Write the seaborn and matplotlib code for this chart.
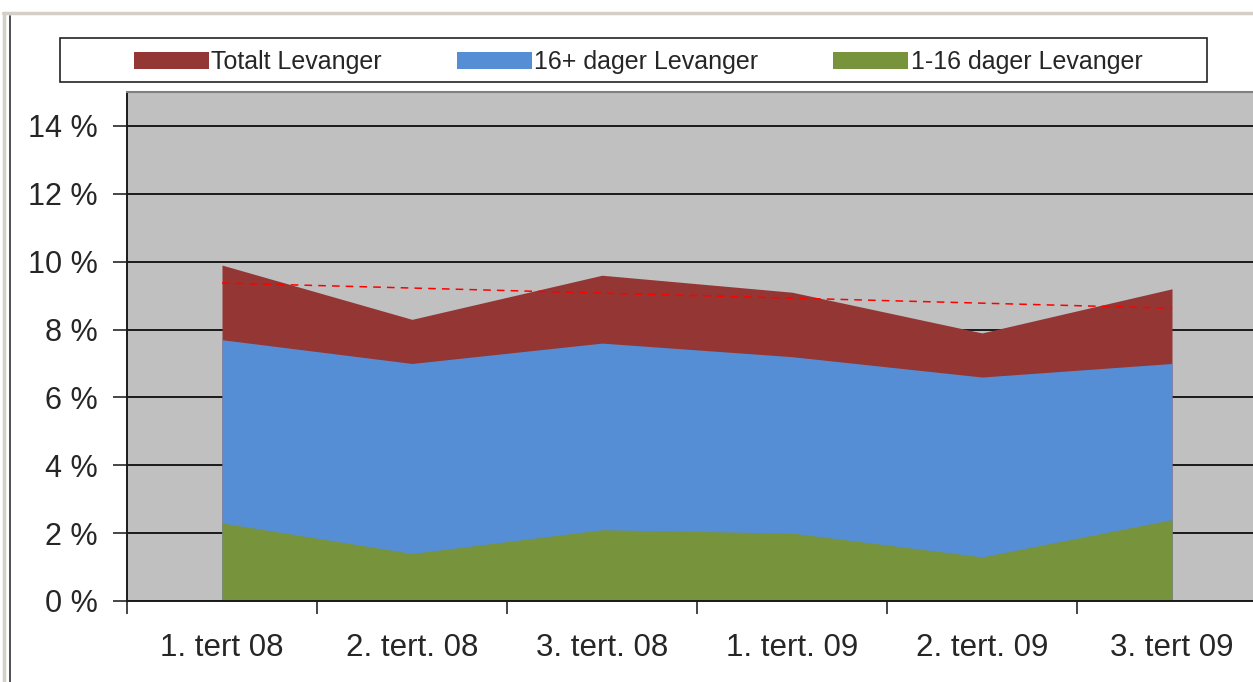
import numpy as np
import pandas as pd
import matplotlib
matplotlib.use("Agg")
import matplotlib.pyplot as plt
import seaborn as sns
from matplotlib.patches import Patch, Rectangle
from matplotlib.lines import Line2D

# --- DATA ---
periods = ["1. tert 08", "2. tert. 08", "3. tert. 08", "1. tert. 09", "2. tert. 09", "3. tert 09"]
totalt = [9.9, 8.3, 9.6, 9.1, 7.9, 9.2]
dager_16pluss = [7.7, 7.0, 7.6, 7.2, 6.6, 7.0]
dager_1_16 = [2.3, 1.4, 2.1, 2.0, 1.3, 2.4]
series_names = ["Totalt Levanger", "16+ dager Levanger", "1-16 dager Levanger"]
colors = ["#943634", "#558ED5", "#77933C"]

sns.set_style("white")
plt.rcParams["font.family"] = ["Liberation Sans", "DejaVu Sans"]

fig = plt.figure(figsize=(12.53, 6.82), dpi=100)
ax = fig.add_axes([127 / 1253, 81 / 682, 1140 / 1253, 509 / 682])
ax.set_facecolor("#c0c0c0")

x = np.arange(len(periods))
for vals, col in zip([totalt, dager_16pluss, dager_1_16], colors):
    ax.fill_between(x, vals, 0, color=col, lw=0, zorder=2)

# linear trendline on totals
coef = np.polyfit(x, totalt, 1)
trend = pd.DataFrame({"x": x, "y": np.polyval(coef, x)})
sns.lineplot(data=trend, x="x", y="y", ax=ax, color="red", linestyle=(0, (5, 4)),
             lw=1.1, zorder=3)

# --- AXES ---
ax.set_xlim(-0.5, 5.5)
ax.set_ylim(0, 15)
ax.set_yticks(np.arange(0, 15, 2))
ax.set_yticklabels([f"{v} %" for v in range(0, 15, 2)], fontsize=22)
ax.tick_params(axis="y", length=10, width=1.2, pad=11, direction="out", left=True)
ax.set_xticks(x)
ax.set_xticklabels(periods, fontsize=22.5)
ax.tick_params(axis="x", which="major", length=0, pad=23)
ax.set_xticks(np.arange(-0.5, 6, 1), minor=True)
ax.tick_params(axis="x", which="minor", length=9, width=1.2, direction="out", bottom=True)
ax.set_xlabel("")
ax.set_ylabel("")

ax.yaxis.grid(True, color="#1a1a1a", lw=1.4)
ax.set_axisbelow(True)
for s in ["left", "bottom"]:
    ax.spines[s].set_color("#1a1a1a")
    ax.spines[s].set_linewidth(1.4)
ax.spines["top"].set_color("#808080")
ax.spines["top"].set_linewidth(1.5)
ax.spines["right"].set_visible(False)

# --- LEGEND ---
handles = [Patch(facecolor=c, edgecolor="none") for c in colors]
fig.legend(handles, series_names, loc="center", ncol=3, frameon=False,
           bbox_to_anchor=(638 / 1253, 1 - 62 / 682), fontsize=18,
           handlelength=3.0, handleheight=0.7, handletextpad=0.1, columnspacing=3.0)
fig.add_artist(Rectangle((60 / 1253, 1 - 82 / 682), 1147 / 1253, 44 / 682,
                         transform=fig.transFigure, facecolor="none",
                         edgecolor="#222222", lw=1.2))

# outer chart frame
fig.add_artist(Line2D([3 / 1253, 1], [1 - 13 / 682, 1 - 13 / 682],
                      transform=fig.transFigure, color="#d4d0c8", lw=2.5))
fig.add_artist(Line2D([4 / 1253, 4 / 1253], [0, 1 - 13 / 682],
                      transform=fig.transFigure, color="#d4d0c8", lw=2.5))
fig.add_artist(Line2D([10 / 1253, 10 / 1253], [0, 1 - 16 / 682],
                      transform=fig.transFigure, color="#333333", lw=1.2))

fig.savefig("out.png", dpi=100)
